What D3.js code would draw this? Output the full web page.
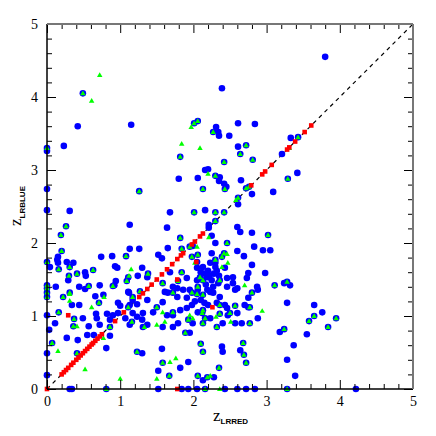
<!DOCTYPE html>
<html><head><meta charset="utf-8">
<script src="https://cdn.jsdelivr.net/npm/d3@7"></script>
<style>html,body{margin:0;padding:0;background:#fff}</style>
</head><body><svg id="c" width="436" height="436"></svg>
<script>
// blue circles only
const blueXY = [
[3.80,4.55],[2.39,4.12],[0.42,3.60],[1.15,3.62],[0.23,3.33],[0,3.26],[0,2.74],[0,2.45],[0.31,2.44],
[0.15,1.81],[0.14,1.77],[0.15,1.73],[0.04,1.67],[0.27,1.74],[0.36,1.73],[0.29,1.49],[0.52,1.60],[0.53,1.55],[0.44,1.40],[0.72,1.42],[0.52,1.37],[0.66,1.27],[0.12,1.40],
[0.74,1.81],[0.89,1.82],[0.93,1.68],[0.96,1.66],[0.94,1.48],[0.92,1.42],[1.13,2.25],[1.13,1.92],[1.26,1.92],[1.11,1.53],[1.24,1.55],[1.30,1.66],[1.37,1.53],[1.12,1.32],[0.77,1.29],[0.34,1.15],[0.97,1.18],[1.23,1.16],[1.17,1.22],[1.11,1.33],[0.44,1.15],[1.00,1.14],[1.13,1.15],[1.37,1.22],
[0,1.01],[0.11,0.90],[0.03,0.81],[0.49,0.97],[0.67,1.03],[0.68,0.97],[0.82,1.03],[0.90,1.01],[0.97,1.04],[0.86,0.95],[1.07,0.97],[1.17,1.04],[1.23,0.99],[1.31,1.04],[0.57,0.86],[0.72,0.88],[1.13,0.88],[1.37,0.88],[0.27,0.70],[0.42,0.67],[0.55,0.74],[0.64,0.74],[0.81,0.56],[0,0.49],[0.86,0.73],[1.30,0.49],[0,0.19],[0.31,0],[0.34,0],
[2.31,3.59],[2.34,3.52],[2.35,3.47],[2.49,3.47],[2.61,3.64],[2.84,3.63],[2.61,3.32],[2.16,3.00],[2.20,3.01],[2.36,2.90],[2.35,2.85],[2.42,2.81],[2.45,2.77],[1.80,2.88],[2.06,2.89],[2.65,2.86],[3.09,2.70],[2.80,2.67],[2.61,2.53],[1.68,2.42],[2.16,2.45],[2.21,2.25],[2.21,2.21],[2.25,2.10],[1.64,2.21],[2.60,2.22],[2.64,2.15],[2.80,2.14],[3.21,3.22],[2.30,2.00],[2.83,1.95],[1.65,1.93],[1.99,1.96],[3.05,1.90],[2.95,1.90],[3.33,3.44],[3.42,2.96],[3.24,1.45],[3.32,1.42],
[2.60,1.89],[2.69,1.82],[1.52,1.84],[1.57,1.79],[2.25,1.86],[2.23,1.73],[2.30,1.73],[2.05,1.74],[2.13,1.67],[2.05,1.66],[1.68,1.60],[2.43,1.66],[2.80,1.70],[2.75,1.59],[2.98,1.59],[1.91,1.52],[2.05,1.49],[2.19,1.53],[2.25,1.49],[2.34,1.45],[2.46,1.52],[2.54,1.53],[2.46,1.40],[2.54,1.45],[2.73,1.52],[2.87,1.40],[2.88,1.36],[2.60,1.38],[2.75,1.25],[2.36,1.26],[2.27,1.32],[2.19,1.36],[2.06,1.36],[1.95,1.36],[1.86,1.36],[1.78,1.38],[1.65,1.32],[1.61,1.33],[1.72,1.40],[1.78,1.26],[1.91,1.25],[2.23,1.33],[2.57,1.36],
[2.15,1.58],[2.20,1.62],[2.28,1.58],[2.32,1.62],[2.17,1.43],[2.27,1.40],[2.22,1.55],[2.10,1.60],[2.35,1.55],[2.30,1.67],[2.02,1.20],[2.10,1.22],[2.15,1.18],
[3.28,1.18],[1.58,1.19],[1.45,1.05],[1.64,1.01],[1.72,1.01],[1.82,1.08],[1.91,1.11],[1.98,1.15],[2.06,1.05],[2.20,1.15],[2.32,1.18],[2.43,1.15],[2.46,1.11],[2.70,1.15],[2.75,1.12],[2.88,0.97],[2.60,1.04],[2.47,1.01],[2.57,0.90],[2.66,0.90],[2.40,0.90],[2.23,0.97],[1.99,0.90],[1.79,0.90],[1.30,0.95],[1.31,0.85],[1.58,0.85],[1.72,0.85],[1.95,0.77],[3.18,0.78],[2.39,0.58],[2.40,0.51],[2.64,0.53],[3.28,0.40],[1.57,0.55],[1.93,0.37],[1.82,0.29],[1.52,0.25],[2.13,0.12],[2.28,0.16],
[1.52,0],[1.84,0],[1.93,0],[2.05,0],[2.43,0],[2.60,0],[2.72,0],[2.84,0],[4.22,0],[3.65,1.15],[3.76,1.05],[3.55,0.75],[3.37,0.60],[3.39,0.18]
];
// blue circle with green triangle on top
const bothXY = [
[0.49,4.05],[0,3.30],[0.26,2.23],[0.19,2.11],[0.20,1.89],[0,1.74],[0.16,1.64],[0.31,1.67],[0.41,1.58],[0.30,1.55],[0.63,1.63],[0.57,1.41],[0,1.42],[0,1.38],[0,1.32],[0,1.26],[0.90,1.41],[1.08,1.82],[1.26,2.71],[1.09,1.48],[1.27,1.34],[1.38,1.58],[0.22,1.26],[0.31,1.32],[0.71,1.18],[1.11,1.12],[1.17,1.26],[0.16,1.05],[0.37,0.96],[1.16,0.92],[0.36,0.86],[0.86,0.85],[0.07,0.63],[0.41,0.49],[1.23,0.51],[0.81,0],
[2.01,3.64],[2.06,3.67],[2.27,3.52],[2.72,3.34],[1.82,3.18],[2.64,3.22],[2.81,3.14],[2.42,3.11],[2.30,2.92],[2.43,2.74],[2.13,2.74],[3.29,2.88],[2.72,2.75],[2.76,2.77],[2.61,2.62],[2.01,2.42],[2.30,2.42],[2.42,2.42],[2.30,2.30],[3.02,2.11],[1.82,2.07],[2.46,2.00],[1.84,1.92],[3.43,3.45],[3.28,1.47],[1.95,1.95],[1.98,1.81],[2.06,1.84],[2.42,1.86],[2.39,1.81],[2.30,1.77],[1.84,1.60],[1.58,1.45],[1.79,1.48],[2.09,1.53],[2.13,1.49],[2.36,1.49],[3.11,1.42],[2.80,1.32],[2.13,1.29],[2.06,1.40],[1.72,1.32],[1.98,1.32],[2.05,1.30],
[1.50,1.12],[1.72,1.05],[2.12,1.04],[2.13,1.08],[2.36,1.15],[2.57,1.14],[2.77,1.12],[2.50,1.04],[2.36,1.03],[2.77,0.90],[2.32,0.85],[2.16,0.97],[2.13,0.90],[1.93,0.95],[1.89,0.77],[3.24,0.82],[2.10,0.62],[2.13,0.51],[2.68,0.63],[2.69,0.47],[2.72,0.36],[1.58,0.36],[1.67,0.18],[2.06,0.18],[2.19,0.16],[2.35,0.29],[2.16,0],[3.28,0],[3.65,1.00],[3.58,0.93],[3.95,0.97],[3.84,0.85]
];
// green triangles only
const greenXY = [
[0.72,4.30],[0.61,3.95],[1.97,3.59],[1.84,3.36],[2.09,3.30],[2.20,2.95],[2.58,2.59],[2.21,2.08],[2.05,1.95],[2.46,1.85],[2.47,1.73],[2.39,1.67],[2.02,1.73],[2.70,1.42],[1.58,1.05],[2.31,0.99],[2.51,0.92],[2.94,1.07],[1.95,1.01],[1.99,0.97],[1.33,0.85],[1.50,0.88],[1.61,0.92],[1.68,0.37],[1.76,0.42],[1.50,0.14],[2.23,0.18],[2.36,0],[0.31,1.30],[0.78,1.26],[0.61,1.12],[0.41,0.86],[0.77,0.70],[0.15,0.52],[0.52,0.27],[1.00,0.14],[1.15,1.64],[1.12,1.55],[0.31,1.21],[3.31,3.30]
];
// red squares
const redXY = [
[0,0],[0.20,0.20],[0.23,0.23],[0.26,0.26],[0.29,0.29],[0.33,0.33],[0.36,0.36],[0.40,0.40],[0.43,0.43],[0.46,0.46],[0.49,0.49],[0.52,0.52],[0.55,0.55],[0.58,0.58],[0.61,0.61],[0.63,0.63],[0.66,0.66],[0.69,0.69],[0.72,0.72],[0.75,0.75],
[0.93,0.93],[1.05,1.05],[1.26,1.26],[1.31,1.31],[1.37,1.37],[1.43,1.43],[1.50,1.50],[1.57,1.57],[1.64,1.64],[1.71,1.71],[1.78,1.78],[1.83,1.83],[1.86,1.86],[1.98,1.98],[2.02,2.02],[2.09,2.09],[2.13,2.13],
[2.79,2.79],[2.94,2.94],[2.98,2.98],[3.07,3.07],[3.28,3.28],[3.31,3.31],[3.39,3.39],[3.52,3.52],[3.61,3.61],
[0.29,1.01],[2.26,1.12],[1.78,0],[1.78,1.50],[2.04,1.74]
];
const majorTicks = [0,1,2,3,4,5];
const minorTicks = d3.range(0,5.0001,0.2).filter(v => Math.abs(v - Math.round(v)) > 1e-6);
const xTitle = {main:"z", sub:"LRRED"};
const yTitle = {main:"z", sub:"LRBLUE"};

const svg = d3.select("#c");
const x = d3.scaleLinear().domain([0,5]).range([47,413]);
const y = d3.scaleLinear().domain([0,5]).range([389,24]);

// diagonal dashed line
svg.append("line").attr("x1",x(0)).attr("y1",y(0)).attr("x2",x(5)).attr("y2",y(5))
  .attr("stroke","#000").attr("stroke-width",1.2).attr("stroke-dasharray","4,4");

// markers
const pts = svg.append("g");
pts.selectAll("circle").data(blueXY.concat(bothXY)).join("circle")
  .attr("cx",d=>x(d[0])).attr("cy",d=>y(d[1])).attr("r",3.3).attr("fill","#0000ff");
const tri = d3.symbol().type(d3.symbolTriangle).size(13);
pts.selectAll("path.t").data(bothXY.concat(greenXY)).join("path").attr("class","t")
  .attr("d",tri).attr("transform",d=>`translate(${x(d[0])},${y(d[1])+0.4})`).attr("fill","#00ff00");
pts.selectAll("rect").data(redXY).join("rect")
  .attr("x",d=>x(d[0])-2.3).attr("y",d=>y(d[1])-2.3).attr("width",4.6).attr("height",4.6).attr("fill","#ff0000");

// axes
function styleAx(g){ g.select(".domain").remove(); g.selectAll("line").attr("stroke","#000"); }
const font = "'Liberation Serif','Times New Roman',serif";
svg.append("g").attr("transform",`translate(0,${y(0)})`)
  .call(d3.axisBottom(x).tickValues(majorTicks).tickSize(-9).tickSizeOuter(0).tickPadding(7).tickFormat(d3.format("d")))
  .call(styleAx).call(g=>g.selectAll("text").attr("font-family",font).attr("font-size",14).attr("fill","#000"));
svg.append("g").attr("transform",`translate(0,${y(0)})`)
  .call(d3.axisBottom(x).tickValues(minorTicks).tickSize(-5).tickFormat("")).call(styleAx);
svg.append("g").attr("transform",`translate(${x(0)},0)`)
  .call(d3.axisLeft(y).tickValues(majorTicks).tickSize(-9).tickSizeOuter(0).tickPadding(9).tickFormat(d3.format("d")))
  .call(styleAx).call(g=>g.selectAll("text").attr("font-family",font).attr("font-size",14).attr("fill","#000"));
svg.append("g").attr("transform",`translate(${x(0)},0)`)
  .call(d3.axisLeft(y).tickValues(minorTicks).tickSize(-5).tickFormat("")).call(styleAx);
svg.append("g").attr("transform",`translate(0,${y(5)})`)
  .call(d3.axisTop(x).tickValues(majorTicks).tickSize(-9).tickFormat("")).call(styleAx);
svg.append("g").attr("transform",`translate(0,${y(5)})`)
  .call(d3.axisTop(x).tickValues(minorTicks).tickSize(-5).tickFormat("")).call(styleAx);
svg.append("g").attr("transform",`translate(${x(5)},0)`)
  .call(d3.axisRight(y).tickValues(majorTicks).tickSize(-9).tickFormat("")).call(styleAx);
svg.append("g").attr("transform",`translate(${x(5)},0)`)
  .call(d3.axisRight(y).tickValues(minorTicks).tickSize(-5).tickFormat("")).call(styleAx);

// frame
svg.append("line").attr("x1",x(0)).attr("x2",x(5)).attr("y1",y(0)).attr("y2",y(0)).attr("stroke","#000").attr("stroke-width",1.5);
svg.append("line").attr("x1",x(0)).attr("x2",x(0)).attr("y1",y(0)).attr("y2",y(5)).attr("stroke","#000").attr("stroke-width",1.5);
svg.append("line").attr("x1",x(0)).attr("x2",x(5)).attr("y1",y(5)).attr("y2",y(5)).attr("stroke","#777").attr("stroke-width",2);
svg.append("line").attr("x1",x(5)).attr("x2",x(5)).attr("y1",y(0)).attr("y2",y(5)).attr("stroke","#777").attr("stroke-width",2);

// titles
const xt = svg.append("text").attr("x",213).attr("y",421).attr("font-family",font).attr("font-size",17).attr("fill","#000");
xt.append("tspan").text(xTitle.main);
xt.append("tspan").attr("dy",3).attr("font-family","'Liberation Sans',Arial,sans-serif").attr("font-size",8).attr("font-weight","bold").text(xTitle.sub);
const yt = svg.append("text").attr("transform","translate(21,226) rotate(-90)").attr("font-family",font).attr("font-size",17).attr("fill","#000");
yt.append("tspan").text(yTitle.main);
yt.append("tspan").attr("dy",4).attr("font-family","'Liberation Sans',Arial,sans-serif").attr("font-size",8).attr("font-weight","bold").text(yTitle.sub);
</script>
</body></html>
